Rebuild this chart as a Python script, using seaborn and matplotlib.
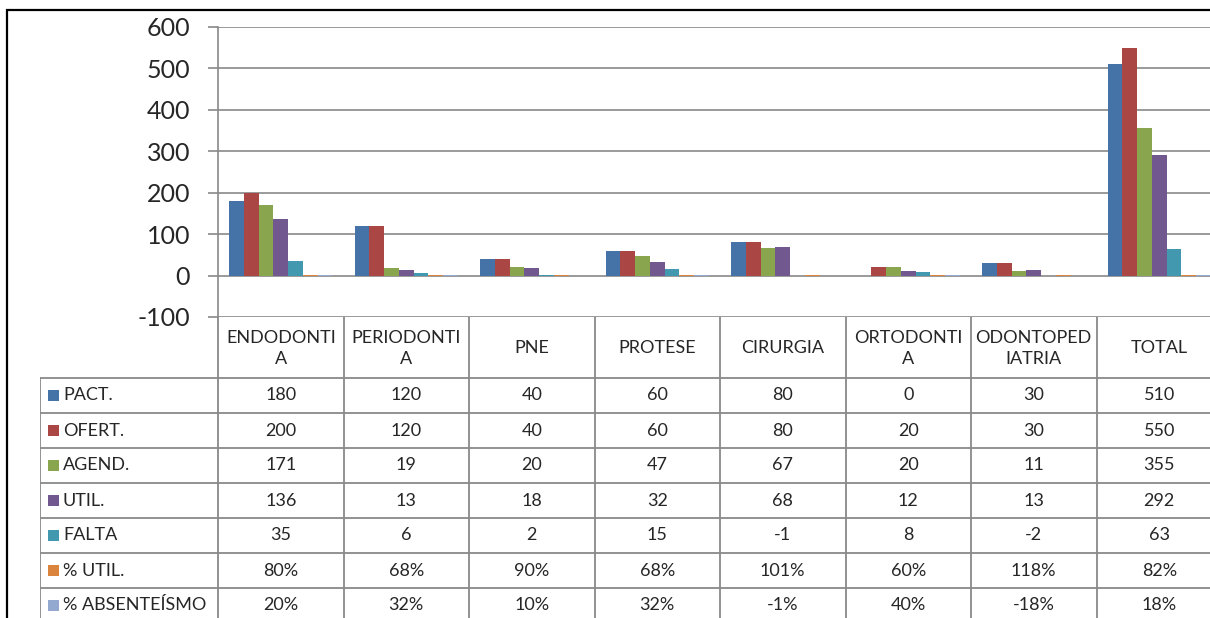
import pandas as pd
import numpy as np
import matplotlib
matplotlib.use("Agg")
import matplotlib.pyplot as plt
from matplotlib.patches import Rectangle
import seaborn as sns

categorias = ['ENDODONTIA', 'PERIODONTIA', 'PNE', 'PROTESE', 'CIRURGIA',
              'ORTODONTIA', 'ODONTOPEDIATRIA', 'TOTAL']
rotulos_cab = ['ENDODONTI\nA', 'PERIODONTI\nA', 'PNE', 'PROTESE', 'CIRURGIA',
               'ORTODONTI\nA', 'ODONTOPED\nIATRIA', 'TOTAL']
series = ['PACT.', 'OFERT.', 'AGEND.', 'UTIL.', 'FALTA', '% UTIL.', '% ABSENTEÍSMO']
cores = ['#4572A7', '#AA4643', '#89A54E', '#71588F', '#4198AF', '#DB843D', '#93A9CF']

pact = [180, 120, 40, 60, 80, 0, 30, 510]
ofert = [200, 120, 40, 60, 80, 20, 30, 550]
agend = [171, 19, 20, 47, 67, 20, 11, 355]
util = [136, 13, 18, 32, 68, 12, 13, 292]
falta = [35, 6, 2, 15, -1, 8, -2, 63]
pct_util = [0.80, 0.68, 0.90, 0.68, 1.01, 0.60, 1.18, 0.82]
pct_abs = [0.20, 0.32, 0.10, 0.32, -0.01, 0.40, -0.18, 0.18]

valores = [pact, ofert, agend, util, falta, pct_util, pct_abs]

df = pd.DataFrame({
    'categoria': np.repeat([categorias], len(series), axis=0).ravel(),
    'serie': np.repeat(series, len(categorias)),
    'valor': np.concatenate(valores),
})

sns.set_style("white")
plt.rcParams['font.family'] = ['Lato', 'DejaVu Sans']
plt.rcParams['axes.unicode_minus'] = False

W, H = 1210, 618
fig = plt.figure(figsize=(W / 100, H / 100), dpi=100)
cinza = '#898989'

# grafico de barras
ax = fig.add_axes([218 / W, (H - 317) / H, (1222 - 218) / W, (317 - 27) / H])
sns.barplot(data=df, x='categoria', y='valor', hue='serie', palette=cores,
            order=categorias, hue_order=series, width=7 / 8.5, gap=0,
            saturation=1, linewidth=0, legend=False, ax=ax)
ax.set_xlim(-0.5, 7.5)
ax.set_ylim(-100, 600)
ax.set_yticks(range(-100, 601, 100))
ax.yaxis.grid(True, color=cinza, linewidth=1.2)
ax.set_axisbelow(True)
ax.set_xticks([])
ax.set_xlabel('')
ax.set_ylabel('')
for s in ['top', 'right', 'bottom']:
    ax.spines[s].set_visible(False)
ax.spines['left'].set_color(cinza)
ax.spines['left'].set_linewidth(1.2)
ax.tick_params(axis='y', length=7, width=1.2, color=cinza, pad=13, labelsize=18,
               left=True)

# tabela de dados
esq = -0.5 - (218 - 40) / 125.5
tb = fig.add_axes([40 / W, 0, (1222 - 40) / W, (H - 317) / H])
tb.set_xlim(esq, 7.5)
tb.set_ylim((H - 317) / 35, 0)
tb.axis('off')
cab = 61 / 35
lw = 1.3
fs = 13
for i in range(len(series) + 1):
    tb.plot([esq, 7.5], [cab + i, cab + i], color=cinza, lw=lw, solid_capstyle='butt')
tb.plot([esq, esq], [cab, cab + 8], color=cinza, lw=lw)
for k in range(len(categorias) + 1):
    tb.plot([k - 0.5, k - 0.5], [0, cab + 8], color=cinza, lw=lw)

for k, r in enumerate(rotulos_cab):
    tb.text(k, cab / 2 + 0.02, r, ha='center', va='center', fontsize=fs,
            linespacing=1.4)

for i, s in enumerate(series):
    y = cab + i + 0.5
    tb.add_patch(Rectangle((esq + 8 / 125.5, y - 0.17), 11 / 125.5, 0.34,
                           color=cores[i], lw=0))
    tb.text(esq + 23 / 125.5, y, s, ha='left', va='center', fontsize=fs)
    for k, v in enumerate(valores[i]):
        if i >= 5:
            txt = f'{round(v * 100)}%'
        else:
            txt = str(v)
        tb.text(k, y, txt, ha='center', va='center', fontsize=fs)

# borda da area do grafico
fig.patches.append(Rectangle((7 / W, -0.1), 1.2, 1.1 - 10 / H, transform=fig.transFigure,
                             fill=False, edgecolor='black', lw=1.6))

fig.savefig('out.png', dpi=100)
